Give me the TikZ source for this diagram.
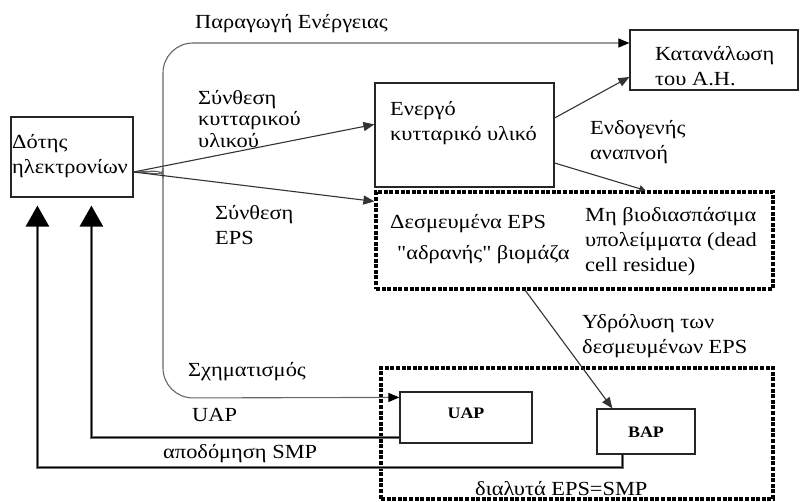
\documentclass[tikz,border=0pt]{standalone}
\usepackage{fontspec}
\setmainfont{Liberation Serif}[Ligatures=TeXOff, FakeStretch=1.12]
\usetikzlibrary{arrows.meta}
\begin{document}
\begin{tikzpicture}[x=1pt,y=-1pt,
  font=\fontsize{20}{25}\selectfont,
  box/.style={draw=black!85, line width=1.2pt, inner sep=0pt, minimum width=#1},
  dotbox/.style={draw=black, line width=3.2pt, dash pattern=on 4pt off 1.6pt, inner sep=0pt},
  lbl/.style={anchor=west, align=left, inner sep=0pt},
  inner/.style={font=\fontsize{16}{18}\selectfont\bfseries, inner sep=0pt},
  conn/.style={draw=black!80, line width=1.1pt, -{Triangle[width=9pt,length=11pt]}},
  curve/.style={draw=black!60, line width=1.1pt, rounded corners=30pt, -{Triangle[width=9pt,length=11pt,color=black]}},
  ret/.style={draw=black!55, line width=2.8pt, -{Triangle[width=23pt,length=21pt,color=black]},
    postaction={draw=black, line width=0.9pt, -}},
]
\useasboundingbox (0,0) rectangle (800,502);

% boxes
\node[box=122pt, minimum height=80pt] (donor) at (72,157) {};
\node[box=168pt, minimum height=60pt] (kat) at (714,60) {};
\node[box=179pt, minimum height=104pt] (energo) at (464.5,135) {};
\node[dotbox, minimum width=397pt, minimum height=97pt] (box1) at (574.5,240.5) {};
\node[dotbox, minimum width=392pt, minimum height=131pt] (box2) at (577,433.5) {};
\node[box=132pt, minimum height=51pt] (uap) at (466,417.5) {};
\node[box=98pt, minimum height=45pt] (bap) at (646,431.5) {};

% box texts
\node[lbl] (tdonor) at (12,156) {Δότης\\ηλεκτρονίων};
\node[lbl] (tkat) at (655,66) {Κατανάλωση\\του Α.Η.};
\node[lbl] (tenergo) at (390,123) {Ενεργό\\κυτταρικό υλικό};
\node[lbl] (tdesm) at (390,224) {Δεσμευμένα EPS};
\node[lbl] (tadr) at (397,255) {"αδρανής" βιομάζα};
\node[lbl] (tmh) at (585,242) {Μη βιοδιασπάσιμα\\υπολείμματα (dead\\cell residue)};
\node[inner] (tuap) at (466,413) {UAP};
\node[inner] (tbap) at (646,432) {BAP};

% connector labels
\node[lbl] (lpe) at (195,24) {Παραγωγή Ενέργειας};
\node[lbl, font=\fontsize{20}{21.5}\selectfont] (lsyn) at (198,119) {Σύνθεση\\κυτταρικού\\υλικού};
\node[lbl] (lendo) at (590,142) {Ενδογενής\\αναπνοή};
\node[lbl] (leps) at (215,225) {Σύνθεση\\EPS};
\node[lbl] (lhyd) at (582,336) {Υδρόλυση των\\δεσμευμένων EPS};
\node[lbl] (lsx) at (188,372) {Σχηματισμός};
\node[lbl] (luap) at (192,415) {UAP};
\node[lbl] (lapo) at (163,454) {αποδόμηση SMP};
\node[lbl] (ldia) at (475,489) {διαλυτά EPS=SMP};

% flows leaving the electron donor
\draw[curve] ([yshift=-15pt]donor.east) .. controls (152,172) and (163,168) .. (163,148)
  -- (163,43) -- ([yshift=17pt]kat.west);
\draw[curve] ([yshift=-15pt]donor.east) .. controls (152,172) and (163,178) .. (163,198)
  -- (163,398) -- ([yshift=-6pt]uap.north west);
\draw[conn] ([yshift=-15pt]donor.east) -- ([yshift=-42pt]energo.north west);
\draw[conn] ([yshift=-15pt]donor.east) -- ([yshift=-11pt]box1.north west);

% active biomass
\draw[conn] ([yshift=17pt]energo.east) -- ([yshift=-17pt]kat.west);
\draw[conn, -{Triangle[width=7pt,length=6pt]}] ([yshift=-28pt]energo.east) -- ([xshift=271pt]box1.north west);

% hydrolysis
\draw[conn] ([xshift=151pt]box1.south west) -- ([xshift=16pt]bap.north west);

% SMP returning to the donor
\draw[ret] ([yshift=6pt]uap.south west) -| ([xshift=81pt,yshift=-8pt]donor.south west);
\draw[ret] ([xshift=26pt]bap.south west) -- ++(0,13) -| ([xshift=27pt,yshift=-8pt]donor.south west);
\end{tikzpicture}
\end{document}
